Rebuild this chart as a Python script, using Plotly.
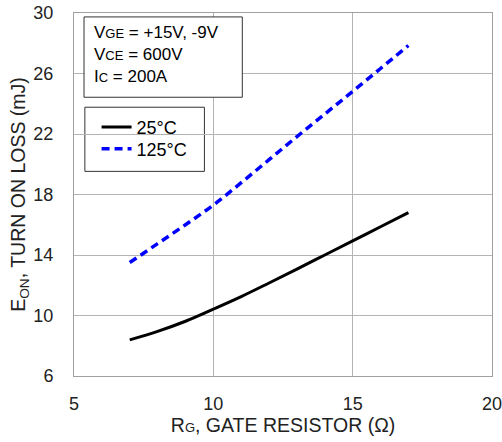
import plotly.graph_objects as go

rg = [7, 8, 9, 10, 11, 12, 13, 14, 15, 16, 17]
eon_25 = [8.39, 8.95, 9.62, 10.42, 11.25, 12.15, 13.07, 14.0, 14.93, 15.87, 16.8]
eon_125 = [13.5, 14.75, 16.0, 17.3, 18.78, 20.3, 21.83, 23.32, 24.82, 26.33, 27.85]

x_ticks = [5, 10, 15, 20]
y_ticks = [6, 10, 14, 18, 22, 26, 30]

FONT = "Liberation Sans, Arial, sans-serif"

fig = go.Figure()
fig.add_trace(go.Scatter(x=rg, y=eon_25, mode="lines", name="25°C", legend="legend",
                         line=dict(color="black", width=3, shape="spline")))
fig.add_trace(go.Scatter(x=rg, y=eon_125, mode="lines", name="125°C", legend="legend2",
                         line=dict(color="#0000ff", width=3.5, dash="8px,5px", shape="spline")))

axis_common = dict(showgrid=True, gridcolor="#b4b4b4", gridwidth=1,
                   showline=True, linecolor="#a0a0a0", linewidth=1, mirror=True,
                   zeroline=False, ticks="", automargin=False, ticklabeloverflow="allow",
                   tickfont=dict(size=18, color="#222", family=FONT),
                   title_font=dict(size=19.5, color="#222", family=FONT))

fig.update_xaxes(range=[5, 20], tickvals=x_ticks, ticklabelstandoff=11,
                 title=dict(text="R<span style='font-size:13px'>G</span>, GATE RESISTOR (Ω)", standoff=3),
                 **axis_common)
fig.update_yaxes(range=[6, 30], tickvals=y_ticks, ticklabelstandoff=16,
                 title=dict(text="E<sub>ON</sub>, TURN ON LOSS (mJ)", standoff=2),
                 **axis_common)

# text box and legend box
fig.add_shape(type="rect", xref="x", yref="y", x0=5.36, x1=11.04, y0=24.43, y1=29.74,
              line=dict(color="#333", width=1), fillcolor="white", layer="above")
fig.add_shape(type="rect", xref="x", yref="y", x0=5.39, x1=9.68, y0=19.53, y1=23.77,
              line=dict(color="#333", width=1), fillcolor="white", layer="below")

fig.add_annotation(xref="x", yref="y", x=5.66, y=29.5, xanchor="left", yanchor="top",
                   align="left", showarrow=False,
                   font=dict(size=17, color="black", family=FONT),
                   text="V<span style='font-size:13px'>GE</span> = +15V, -9V<br>"
                        "V<span style='font-size:13px'>CE</span> = 600V<br>"
                        "I<span style='font-size:13px'>C</span> = 200A")

leg_common = dict(xanchor="left", yanchor="middle", bgcolor="rgba(0,0,0,0)", borderwidth=0,
                  font=dict(size=18, family=FONT, color="black"), itemwidth=30)

fig.update_layout(
    width=502, height=442,
    margin=dict(l=74, r=10, t=13, b=66),
    paper_bgcolor="white", plot_bgcolor="white",
    font=dict(family=FONT, color="black"),
    legend=dict(x=0.054, y=0.685, **leg_common),
    legend2=dict(x=0.054, y=0.625, **leg_common),
    showlegend=True,
)

fig.write_html("out.html")
